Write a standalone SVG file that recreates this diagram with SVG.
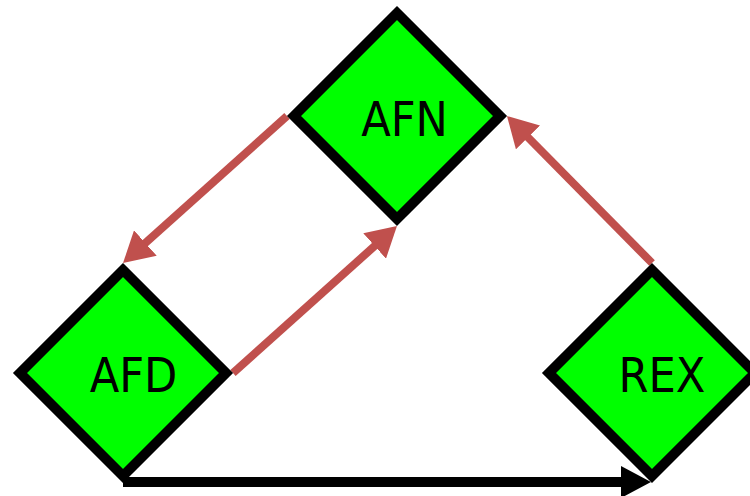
<svg xmlns="http://www.w3.org/2000/svg" width="750" height="496" viewBox="0 0 750 496">
<style>
.node{fill:#00FF00;stroke:#000;stroke-width:10;stroke-linejoin:miter}
.lbl{font-family:"DejaVu Sans Condensed","DejaVu Sans",sans-serif;font-stretch:condensed;font-size:48px;fill:#000;text-anchor:middle}
.red{stroke:#C0504D;stroke-width:8;fill:none}
.blk{stroke:#000;stroke-width:10;fill:none}
</style>
<defs>
<marker id="ar" markerUnits="userSpaceOnUse" viewBox="0 0 30 34" refX="15" refY="17" markerWidth="30" markerHeight="34" orient="auto"><path d="M0,0 L30,17 L0,34 z" fill="#C0504D"/></marker>
<marker id="ab" markerUnits="userSpaceOnUse" viewBox="0 0 30 32" refX="15" refY="16" markerWidth="30" markerHeight="32" orient="auto"><path d="M0,0 L30,16 L0,32 z" fill="#000"/></marker>
</defs>
<g id="connectors">
<line class="red" x1="287" y1="116" x2="134.2" y2="253" marker-end="url(#ar)"/>
<line class="red" x1="233" y1="373" x2="385.8" y2="236" marker-end="url(#ar)"/>
<line class="red" x1="652" y1="263" x2="517.5" y2="126.7" marker-end="url(#ar)"/>
<line class="blk" x1="123" y1="482" x2="636" y2="482" marker-end="url(#ab)"/>
</g>
<g id="AFN">
<path class="node" d="M397,13 L500,116 L397,219 L294,116 Z"/>
<text class="lbl" x="404.5" y="136">AFN</text>
</g>
<g id="AFD">
<path class="node" d="M123,270 L226,373 L123,476 L20,373 Z"/>
<text class="lbl" x="133.5" y="392">AFD</text>
</g>
<g id="REX">
<path class="node" d="M652,270 L755,373 L652,476 L549,373 Z"/>
<text class="lbl" x="662" y="392">REX</text>
</g>
</svg>
